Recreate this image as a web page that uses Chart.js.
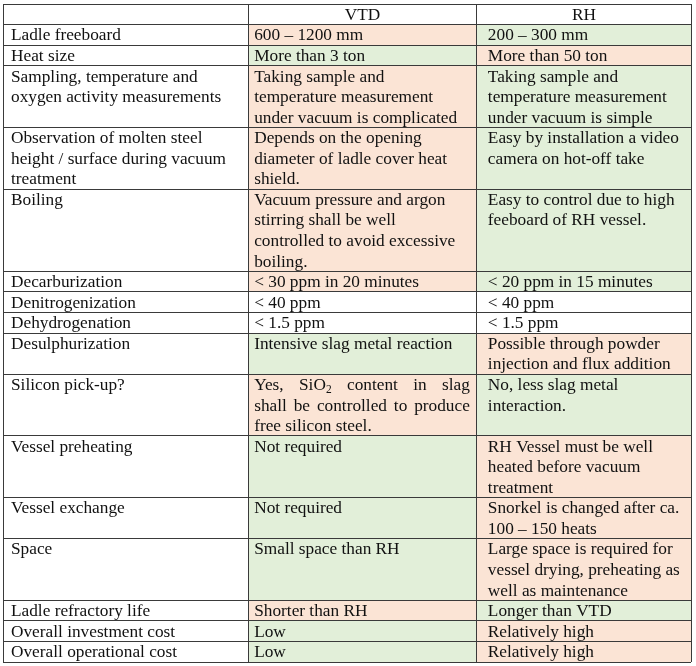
<!DOCTYPE html>
<html><head><meta charset="utf-8">
<script src="https://cdn.jsdelivr.net/npm/chart.js@4.4.1/dist/chart.umd.min.js"></script>
<style>html,body{margin:0;padding:0;background:#fff;}canvas{display:block;}</style>
</head><body>
<canvas id="c" width="696" height="666"></canvas>
<script>
// ---------- DATA ----------
const headers = ['', 'VTD', 'RH'];
const parameters = [
  ['Ladle freeboard'],
  ['Heat size'],
  ['Sampling, temperature and', 'oxygen activity measurements'],
  ['Observation of molten steel', 'height / surface during vacuum', 'treatment'],
  ['Boiling'],
  ['Decarburization'],
  ['Denitrogenization'],
  ['Dehydrogenation'],
  ['Desulphurization'],
  ['Silicon pick-up?'],
  ['Vessel preheating'],
  ['Vessel exchange'],
  ['Space'],
  ['Ladle refractory life'],
  ['Overall investment cost'],
  ['Overall operational cost']
];
const vtdText = [
  ['600 \u2013 1200 mm'],
  ['More than 3 ton'],
  ['Taking sample and', 'temperature measurement', 'under vacuum is complicated'],
  ['Depends on the opening', 'diameter of ladle cover heat', 'shield.'],
  ['Vacuum pressure and argon', 'stirring shall be well', 'controlled to avoid excessive', 'boiling.'],
  ['< 30 ppm in 20 minutes'],
  ['< 40 ppm'],
  ['< 1.5 ppm'],
  ['Intensive slag metal reaction'],
  ['Yes, SiO\u2082 content in slag', 'shall be controlled to produce', 'free silicon steel.'],
  ['Not required'],
  ['Not required'],
  ['Small space than RH'],
  ['Shorter than RH'],
  ['Low'],
  ['Low']
];
const rhText = [
  ['200 \u2013 300 mm'],
  ['More than 50 ton'],
  ['Taking sample and', 'temperature measurement', 'under vacuum is simple'],
  ['Easy by installation a video', 'camera on hot-off take'],
  ['Easy to control due to high', 'feeboard of RH vessel.'],
  ['< 20 ppm in 15 minutes'],
  ['< 40 ppm'],
  ['< 1.5 ppm'],
  ['Possible through powder', 'injection and flux addition'],
  ['No, less slag metal', 'interaction.'],
  ['RH Vessel must be well', 'heated before vacuum', 'treatment'],
  ['Snorkel is changed after ca.', '100 \u2013 150 heats'],
  ['Large space is required for', 'vessel drying, preheating as', 'well as maintenance'],
  ['Longer than VTD'],
  ['Relatively high'],
  ['Relatively high']
];
// shading: o = orange (disadvantage), g = green (advantage), w = neutral
const vtdShade = ['o','g','o','o','o','o','w','w','g','o','g','g','g','o','g','g'];
const rhShade  = ['g','o','g','g','g','g','w','w','o','g','o','o','o','g','o','o'];
// cells whose text is justified: [parameter index, column]
const justifiedCells = [[9, 1]];

// ---------- LAYOUT / STYLE ----------
const COL_WIDTHS = [245, 228.5, 214];
const PAD_LEFT = [8, 6, 11];
const PAD_RIGHT = 7;
const SHADE = { o: '#FBE4D5', g: '#E2EFD9', w: '#FFFFFF' };
const FONT_SIZE = 17.3;
const FONT_FAMILY = '"Liberation Serif", "Times New Roman", serif';
const LINE_COLOR = '#3a3a3a';

// table model built from data arrays
const rows = [[[headers[0]], [headers[1]], [headers[2]]]];
const shades = [['w', 'w', 'w']];
parameters.forEach((p, i) => {
  rows.push([p, vtdText[i], rhText[i]]);
  shades.push(['w', vtdShade[i], rhShade[i]]);
});
const rowLines = rows.map(r => Math.max(...r.map(c => c.length)));
const rowEdges = [0];
rowLines.forEach(n => rowEdges.push(rowEdges[rowEdges.length - 1] + n));
const colEdges = [0];
COL_WIDTHS.forEach(w => colEdges.push(colEdges[colEdges.length - 1] + w));
const totalLines = rowEdges[rowEdges.length - 1];
const totalWidth = colEdges[colEdges.length - 1];

// one filled band per shaded cell
const datasets = [];
rows.forEach((r, ri) => {
  r.forEach((cell, ci) => {
    const s = shades[ri][ci];
    if (s === 'w') return;
    datasets.push({
      type: 'line',
      data: [{ x: colEdges[ci], y: rowEdges[ri] }, { x: colEdges[ci + 1], y: rowEdges[ri] }],
      fill: { value: rowEdges[ri + 1] },
      backgroundColor: SHADE[s],
      borderWidth: 0,
      borderColor: 'rgba(0,0,0,0)',
      pointRadius: 0,
      tension: 0
    });
  });
});

function segs(text) {
  const out = [];
  let cur = '';
  for (const ch of text) {
    if (ch === '\u2082') { if (cur) out.push({ t: cur, sub: false }); cur = ''; out.push({ t: '2', sub: true }); }
    else cur += ch;
  }
  if (cur) out.push({ t: cur, sub: false });
  return out;
}
const mainFont = FONT_SIZE + 'px ' + FONT_FAMILY;
const subFont = (FONT_SIZE * 0.66) + 'px ' + FONT_FAMILY;
function measureRich(ctx, text) {
  let w = 0;
  segs(text).forEach(s => { ctx.font = s.sub ? subFont : mainFont; w += ctx.measureText(s.t).width; });
  ctx.font = mainFont;
  return w;
}
function drawRich(ctx, text, x, y) {
  let cx = x;
  segs(text).forEach(s => {
    ctx.font = s.sub ? subFont : mainFont;
    ctx.fillText(s.t, cx, s.sub ? y + FONT_SIZE * 0.2 : y);
    cx += ctx.measureText(s.t).width;
  });
  ctx.font = mainFont;
}
function drawJustified(ctx, text, x, y, width) {
  const words = text.split(/\s+/);
  const ws = words.map(w => measureRich(ctx, w));
  const total = ws.reduce((a, b) => a + b, 0);
  const gap = words.length > 1 ? (width - total) / (words.length - 1) : 0;
  let cx = x;
  words.forEach((w, i) => { drawRich(ctx, w, cx, y); cx += ws[i] + gap; });
}

const textPlugin = {
  id: 'cellText',
  afterDraw(chart) {
    const ctx = chart.ctx;
    const xs = chart.scales.x, ys = chart.scales.y;
    const lineH = ys.getPixelForValue(1) - ys.getPixelForValue(0);
    ctx.save();
    ctx.fillStyle = '#111';
    ctx.font = mainFont;
    ctx.textBaseline = 'alphabetic';
    rows.forEach((r, ri) => {
      const top = ys.getPixelForValue(rowEdges[ri]);
      r.forEach((cell, ci) => {
        const left = xs.getPixelForValue(colEdges[ci]);
        const right = xs.getPixelForValue(colEdges[ci + 1]);
        const just = justifiedCells.some(j => j[0] === ri - 1 && j[1] === ci);
        cell.forEach((line, li) => {
          const y = top + lineH * 0.77 + li * lineH;
          if (ri === 0) {
            ctx.textAlign = 'center';
            ctx.fillText(line, (left + right) / 2, y);
            ctx.textAlign = 'left';
          } else if (just && li < cell.length - 1) {
            drawJustified(ctx, line, left + PAD_LEFT[ci], y, right - PAD_RIGHT - left - PAD_LEFT[ci]);
          } else {
            drawRich(ctx, line, left + PAD_LEFT[ci], y);
          }
        });
      });
    });
    ctx.restore();
  }
};

new Chart(document.getElementById('c'), {
  type: 'line',
  data: { datasets },
  options: {
    responsive: false,
    animation: false,
    events: [],
    layout: { padding: { left: 3, right: 5, top: 4, bottom: 4 } },
    plugins: { legend: { display: false }, tooltip: { enabled: false }, title: { display: false } },
    scales: {
      x: {
        type: 'linear', min: 0, max: totalWidth, z: 1,
        afterBuildTicks: s => { s.ticks = colEdges.map(v => ({ value: v })); },
        ticks: { display: false },
        grid: { color: LINE_COLOR, lineWidth: 1, drawTicks: false, z: 1 },
        border: { display: false }
      },
      y: {
        type: 'linear', min: 0, max: totalLines, reverse: true, z: 1,
        afterBuildTicks: s => { s.ticks = rowEdges.map(v => ({ value: v })); },
        ticks: { display: false },
        grid: { color: LINE_COLOR, lineWidth: 1, drawTicks: false, z: 1 },
        border: { display: false }
      }
    }
  },
  plugins: [textPlugin]
});
</script>
</body></html>
